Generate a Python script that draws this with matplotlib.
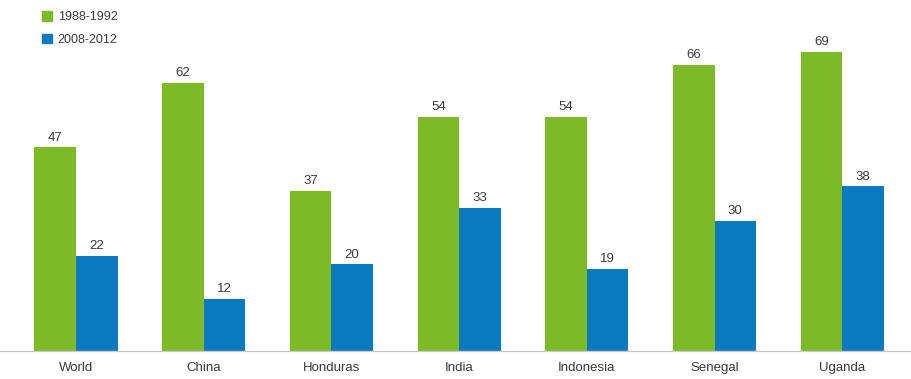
import matplotlib
matplotlib.use("Agg")
import matplotlib.pyplot as plt
import numpy as np
from matplotlib.patches import Patch

plt.rcParams['font.family'] = ['Liberation Sans', 'DejaVu Sans']

categories = ["World", "China", "Honduras", "India", "Indonesia", "Senegal", "Uganda"]
series_names = ["1988-1992", "2008-2012"]
values_1988_1992 = [47, 62, 37, 54, 54, 66, 69]
values_2008_2012 = [22, 12, 20, 33, 19, 30, 38]

green = "#7cba27"
blue = "#0b79bf"
text_color = "#3a3a3a"

W, H = 912, 379
fig = plt.figure(figsize=(W / 100, H / 100), dpi=100)
ax = fig.add_axes([0, 28 / H, 1, (351 - 0) / H])

x = np.arange(len(categories))
bw = 0.325
b1 = ax.bar(x - bw / 2, values_1988_1992, bw, color=green, zorder=2)
b2 = ax.bar(x + bw / 2, values_2008_2012, bw, color=blue, zorder=2)

for bars, vals in ((b1, values_1988_1992), (b2, values_2008_2012)):
    for rect, v in zip(bars, vals):
        ax.text(rect.get_x() + rect.get_width() / 2, v + 0.9, str(v),
                ha="center", va="bottom", fontsize=9.5, color=text_color)

ax.set_xlim(-76 / 127.7, (912 - 76) / 127.7)
ax.set_ylim(0, 351 / 4.33)

for s in ("top", "right", "left"):
    ax.spines[s].set_visible(False)
ax.spines["bottom"].set_color("#c8c8c8")
ax.spines["bottom"].set_linewidth(1.0)
ax.set_yticks([])
ax.set_xticks(x)
ax.set_xticklabels(categories, fontsize=9.5, color=text_color)
ax.tick_params(axis="x", length=0, pad=8)

handles = [Patch(color=green), Patch(color=blue)]
leg = ax.legend(handles, series_names, loc="upper left",
                bbox_to_anchor=(37 / W, 1.0 - 6 / 351), frameon=False,
                fontsize=9, handlelength=0.8, handleheight=0.8,
                handletextpad=0.45, labelspacing=0.85, borderaxespad=0)
for t in leg.get_texts():
    t.set_color(text_color)

fig.savefig("out.png", dpi=100)
